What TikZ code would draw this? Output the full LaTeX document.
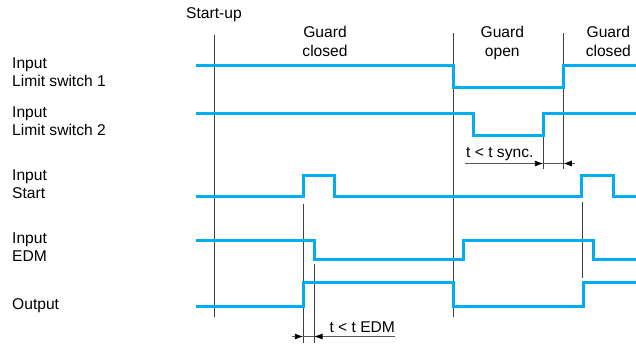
\documentclass[tikz,border=0pt]{standalone}
\usepackage{fontspec}
\setmainfont{Liberation Sans}
\usetikzlibrary{arrows.meta}
\definecolor{sig}{RGB}{0,174,239}
\begin{document}
\begin{tikzpicture}[x=1pt,y=-1pt,
  signal/.style={draw=sig,line width=3pt,line join=miter},
  marker/.style={draw=black!75,line width=0.9pt},
  dimline/.style={draw=black!65,line width=0.9pt},
  tipped/.style={dimline,-{Latex[length=8.5pt,width=6pt,black]}},
  lbl/.style={anchor=base west,inner sep=0pt,font=\fontsize{15.6}{18}\selectfont},
  clbl/.style={anchor=base,inner sep=0pt,font=\fontsize{15.6}{18}\selectfont}]
\useasboundingbox (0,0) rectangle (636,343);
% ---- left labels
\node[lbl] (l1a) at (12,68.3) {Input};
\node[lbl] (l1b) at (12,86.7) {Limit switch 1};
\node[lbl] (l2a) at (12,117.3) {Input};
\node[lbl] (l2b) at (12,135.7) {Limit switch 2};
\node[lbl] (l3a) at (12,180) {Input};
\node[lbl] (l3b) at (12,198.3) {Start};
\node[lbl] (l4a) at (12,243.3) {Input};
\node[lbl] (l4b) at (12,261.7) {EDM};
\node[lbl] (l5) at (12,309.3) {Output};
% ---- top labels
\node[lbl] (su) at (186,18.3) {Start-up};
\node[clbl] (g1a) at (325,37.5) {Guard};
\node[clbl] (g1b) at (325,56) {closed};
\node[clbl] (g2a) at (502.3,37.5) {Guard};
\node[clbl] (g2b) at (502.3,56) {open};
\node[clbl] (g3a) at (608.3,37.5) {Guard};
\node[clbl] (g3b) at (608.3,56) {closed};
% ---- marker lines
\coordinate (v0t) at (214,35);    \coordinate (v0b) at (214,317);
\coordinate (v1t) at (453.3,33);  \coordinate (v1b) at (453.3,317);
\coordinate (v2t) at (563.3,33);  \coordinate (v2b) at (563.3,169);
\coordinate (v3t) at (543.3,135); \coordinate (v3b) at (543.3,169);
\coordinate (v4t) at (303.3,204); \coordinate (v4b) at (303.3,343);
\coordinate (v5t) at (314,264);   \coordinate (v5b) at (314,343);
\coordinate (v6t) at (582.7,201.7); \coordinate (v6b) at (582.7,278);
\draw[marker] (v0t) -- (v0b);
\draw[marker] (v1t) -- (v1b);
\draw[marker] (v2t) -- (v2b);
\draw[marker] (v3t) -- (v3b);
\draw[marker] (v4t) -- (v4b);
\draw[marker] (v5t) -- (v5b);
\draw[marker] (v6t) -- (v6b);
% ---- signals
\draw[signal] (196,65.7) -- (453.3,65.7) -- (453.3,87.3) -- (563.3,87.3) -- (563.3,65.7) -- (636,65.7);
\draw[signal] (196,113.3) -- (473.3,113.3) -- (473.3,135) -- (543.3,135) -- (543.3,113.3) -- (636,113.3);
\draw[signal] (196,196.7) -- (303.3,196.7) -- (303.3,175.7) -- (334,175.7) -- (334,196.7) -- (581.7,196.7) -- (581.7,175.7) -- (613.3,175.7) -- (613.3,196.7) -- (636,196.7);
\draw[signal] (196,240.7) -- (314,240.7) -- (314,259.3) -- (463.3,259.3) -- (463.3,240.7) -- (593.3,240.7) -- (593.3,259.3) -- (636,259.3);
\draw[signal] (196,306.7) -- (303.3,306.7) -- (303.3,282.7) -- (453.3,282.7) -- (453.3,306.7) -- (583,306.7) -- (583,282.7) -- (636,282.7);
% ---- t < t sync.
\coordinate (sa) at (465,163.5);
\coordinate (sb) at (543.3,163.5);
\coordinate (sc) at (563.3,163.5);
\coordinate (sd) at (575,163.5);
\draw[tipped] (sa) -- (sb);
\draw[dimline] (sb) -- (sc);
\draw[tipped] (sd) -- (sc);
\node[lbl] (syn) at (466,157.7) {t < t sync.};
% ---- t < t EDM
\coordinate (ea) at (291.7,336.5);
\coordinate (eb) at (303.3,336.5);
\coordinate (ec) at (314,336.5);
\coordinate (ed) at (395,336.5);
\draw[tipped] (ea) -- (eb);
\draw[dimline] (eb) -- (ec);
\draw[tipped] (ed) -- (ec);
\node[lbl] (edm) at (329.3,332.7) {t < t EDM};
\end{tikzpicture}
\end{document}
